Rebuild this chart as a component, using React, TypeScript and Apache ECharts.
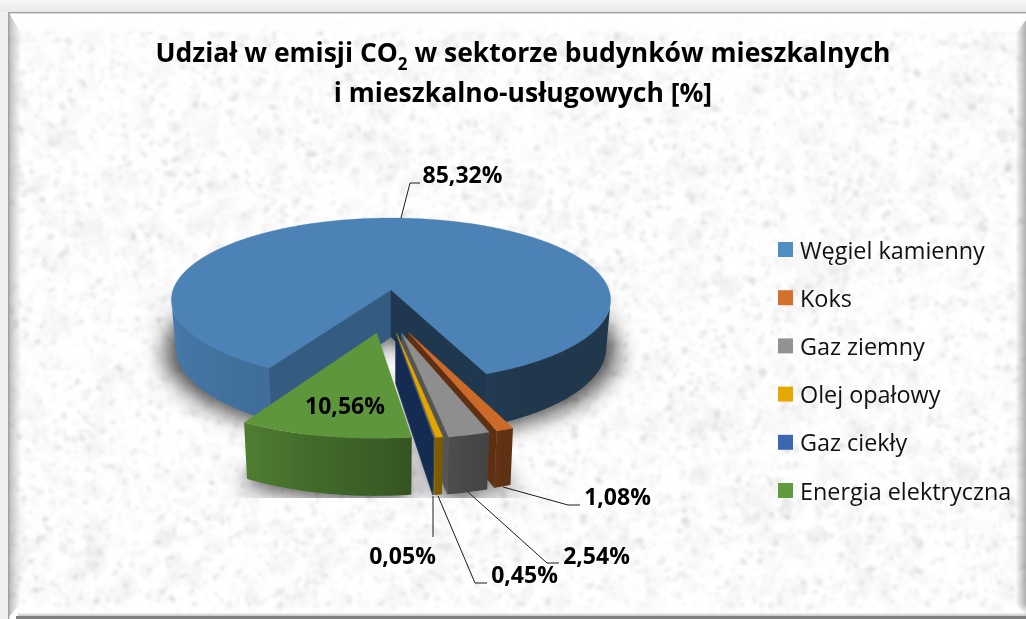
import React, { useEffect, useRef, useState } from "react";
import * as echarts from "echarts";

const categories = ["Węgiel kamienny", "Koks", "Gaz ziemny", "Olej opałowy", "Gaz ciekły", "Energia elektryczna"];
const shares = [85.32, 1.08, 2.54, 0.45, 0.05, 10.56];
const titleLines = ["Udział w emisji CO", "2", " w sektorze budynków mieszkalnych", "i mieszkalno-usługowych [%]"];

const topColors = ["#4c82b6", "#cc6a2a", "#8e8e8e", "#e3a600", "#3a62ac", "#5e963c"];
const legendColors = ["#4f8dc3", "#d4702c", "#929292", "#e5a900", "#3d66b1", "#609b40"];
const cutColors = ["#345b80", "#5e3011", "#555555", "#8f6a00", "#152c52", "#3f6a29"];
const endCutColors = ["#1f374f", "#5e3011", "#555555", "#8f6a00", "#152c52", "#3f6a29"];
const explodeX = [0, 0.0746, 0.046, 0.0245, 0.02, -0.0616];
const explodeY = [0, 0.492, 0.503, 0.503, 0.503, 0.5];
// leader lines and label anchors, one per slice
const leaders: number[][][] = [
  [[401, 218], [410, 183], [420, 183]],
  [[503, 487], [568, 505], [580, 505]],
  [[468, 492], [547, 563], [559, 563]],
  [[438, 496], [475, 583], [487, 583]],
  [[433, 496], [433, 537]],
  [],
];
const labelX = [462.5, 617.5, 596.5, 524.5, 402.5, 345];
const labelY = [174, 496, 555, 574, 555, 405];

const START = 210;
const B = 0.122, A = 80.8, R = 218, CX = 391, CY = 290, H = 47;
const CAM_Y = 1 / B;
const rad = (d: number) => (d * Math.PI) / 180;

function proj(X: number, Y: number, bottom = false) {
  const k = 1 / (1 - B * Y);
  let x = CX + R * X * k;
  let y = CY + A * Y * k;
  if (bottom) {
    y += H * k;
    x = CX + (x - CX) * 0.98;
  }
  return [x, y];
}
function rim(i: number, phi: number, bottom = false) {
  return proj(explodeX[i] + Math.sin(rad(phi)), explodeY[i] - Math.cos(rad(phi)), bottom);
}
function sliceRange(i: number) {
  const total = shares.reduce((a, b) => a + b, 0);
  let before = 0;
  for (let k = 0; k < i; k++) before += shares[k];
  return [START + (before / total) * 360, START + ((before + shares[i]) / total) * 360];
}
function angles(a: number, b: number) {
  const out: number[] = [];
  for (let p = a; p < b; p += 0.5) out.push(p);
  out.push(b);
  return out;
}
const wallShade = [[0, 0.42], [150, 0.42], [165, 0.5], [180, 0.62], [195, 0.72], [210, 0.84], [240, 0.9], [270, 0.97], [360, 0.97]];
function shadeAt(phi: number) {
  const p = ((phi % 360) + 360) % 360;
  for (let k = 1; k < wallShade.length; k++) {
    if (p <= wallShade[k][0]) {
      const t = (p - wallShade[k - 1][0]) / (wallShade[k][0] - wallShade[k - 1][0]);
      return wallShade[k - 1][1] + t * (wallShade[k][1] - wallShade[k - 1][1]);
    }
  }
  return 0.97;
}
function dark(hex: string, f: number) {
  const n = parseInt(hex.slice(1), 16);
  const c = [(n >> 16) & 255, (n >> 8) & 255, n & 255].map((v) => Math.round(v * f));
  return `rgb(${c[0]},${c[1]},${c[2]})`;
}
function faces(i: number) {
  const [a, b] = sliceRange(i);
  const ax = explodeX[i], ay = explodeY[i];
  const kids: any[] = [];
  const cut = (phi: number, sign: number, color: string) => {
    const nx = Math.sin(rad(phi + sign * 90)), ny = -Math.cos(rad(phi + sign * 90));
    if (-ax * nx + (CAM_Y - ay) * ny <= 0) return;
    kids.push({
      type: "polygon", silent: true,
      shape: { points: [proj(ax, ay), rim(i, phi), rim(i, phi, true), proj(ax, ay, true)] },
      style: { fill: color, stroke: color, lineWidth: 0.5 },
    });
  };
  cut(a, -1, cutColors[i]);
  cut(b, 1, endCutColors[i]);
  // outer wall: only the visible runs
  let run: number[] = [];
  const flush = () => {
    if (run.length > 1) {
      const top = run.map((p) => rim(i, p));
      const bot = run.map((p) => rim(i, p, true)).reverse();
      const pts = top.concat(bot);
      const xs = pts.map((q) => q[0]);
      const x0 = Math.min(...xs), x1 = Math.max(...xs);
      const stops = run
        .filter((_, n) => n % 6 === 0 || n === run.length - 1)
        .map((p) => ({ offset: Math.min(1, Math.max(0, (rim(i, p)[0] - x0) / (x1 - x0))), color: dark(topColors[i], shadeAt(p)) }))
        .sort((s, t) => s.offset - t.offset);
      kids.push({
        type: "polygon", silent: true, shape: { points: pts },
        style: { fill: new echarts.graphic.LinearGradient(0, 0, 1, 0, stops) },
      });
    }
    run = [];
  };
  for (const p of angles(a, b)) {
    const sx = Math.sin(rad(p)), sy = -Math.cos(rad(p));
    const vis = -(ax + sx) * sx + (CAM_Y - ay - sy) * sy > 0;
    if (vis) run.push(p);
    else flush();
  }
  flush();
  const topPts = [proj(ax, ay)].concat(angles(a, b).map((p) => rim(i, p)));
  kids.push({
    type: "polygon", silent: true, shape: { points: topPts },
    style: { fill: topColors[i], stroke: topColors[i], lineWidth: 0.3 },
  });
  return kids;
}
function annotation(i: number) {
  const kids: any[] = [];
  if (leaders[i].length)
    kids.push({ type: "polyline", silent: true, shape: { points: leaders[i] }, style: { stroke: "#1c1c1c", lineWidth: 1, fill: "none" } });
  kids.push({
    type: "text", silent: true,
    style: {
      text: shares[i].toFixed(2).replace(".", ",") + "%",
      x: labelX[i], y: labelY[i], align: "center", verticalAlign: "middle",
      fill: "#000", font: 'bold 23px "Open Sans"',
    },
  });
  return kids;
}

function layer(W: number, Hh: number) {
  const c = document.createElement("canvas");
  c.width = W; c.height = Hh;
  return c;
}
function makeBackground() {
  const W = 1026, Hh = 619;
  const c = layer(W, Hh);
  const g = c.getContext("2d")!;
  const pg = g.createLinearGradient(0, 0, 0, 12);
  pg.addColorStop(0, "#f6f6f6"); pg.addColorStop(1, "#e9e9e9");
  g.fillStyle = pg; g.fillRect(0, 0, W, Hh);
  g.fillStyle = "#ffffff"; g.fillRect(9, 13, W - 9, Hh - 13);
  // paper grain: draw on its own layer, blur once
  let seed = 20240611;
  const rnd = () => ((seed = (seed * 1664525 + 1013904223) >>> 0) / 4294967296);
  const grain = layer(W, Hh);
  const gg = grain.getContext("2d")!;
  for (let n = 0; n < 1500; n++) {
    const x = rnd() * W, y = rnd() * Hh, r = 5 + rnd() * 8;
    gg.fillStyle = `rgba(190,190,190,${0.03 + rnd() * 0.06})`;
    gg.beginPath(); gg.ellipse(x, y, r, r * (0.5 + rnd() * 0.5), rnd() * 3.14, 0, 6.3); gg.fill();
  }
  for (let n = 0; n < 16000; n++) {
    const x = rnd() * W, y = rnd() * Hh, r = 0.8 + rnd() * 2.2, a = 0.03 + rnd() * rnd() * 0.26;
    gg.fillStyle = `rgba(165,165,165,${a})`;
    gg.beginPath(); gg.ellipse(x, y, r * (0.8 + rnd()), r * (0.6 + rnd() * 0.6), rnd() * 3.14, 0, 6.3); gg.fill();
  }
  g.save();
  g.beginPath(); g.rect(9, 13, W - 9, Hh - 16); g.clip();
  g.filter = "blur(1.8px)";
  g.drawImage(grain, 0, 0);
  g.filter = "none";
  g.restore();
  // bevel
  const t = g.createLinearGradient(0, 13, 0, 33);
  t.addColorStop(0, "rgba(255,255,255,.95)"); t.addColorStop(0.85, "rgba(255,255,255,.8)"); t.addColorStop(1, "rgba(255,255,255,.0)");
  g.fillStyle = t; g.fillRect(9, 13, W - 9, 20);
  const l = g.createLinearGradient(8, 0, 21, 0);
  l.addColorStop(0, "rgba(120,120,120,.55)"); l.addColorStop(1, "rgba(150,150,150,.02)");
  g.fillStyle = l; g.beginPath(); g.moveTo(9, 13); g.lineTo(21, 33); g.lineTo(21, 604); g.lineTo(9, 616); g.fill();
  const rr = g.createLinearGradient(1016, 0, 1026, 0);
  rr.addColorStop(0, "rgba(120,120,120,.02)"); rr.addColorStop(1, "rgba(110,110,110,.55)");
  g.fillStyle = rr; g.beginPath(); g.moveTo(1026, 20); g.lineTo(1016, 33); g.lineTo(1016, 604); g.lineTo(1026, 616); g.fill();
  const bt = g.createLinearGradient(0, 604, 0, 616);
  bt.addColorStop(0, "rgba(255,255,255,0)"); bt.addColorStop(0.7, "rgba(255,255,255,.85)"); bt.addColorStop(1, "rgba(190,190,190,.9)");
  g.fillStyle = bt; g.fillRect(18, 604, W - 18, 12);
  g.fillStyle = "#808080"; g.fillRect(16, 616, W - 16, 3);
  g.fillStyle = "#a0a0a0"; g.fillRect(8, 12, W - 8, 1.4); g.fillRect(8, 12, 1.4, 607);
  g.fillStyle = "#f0f0f0"; g.fillRect(0, 12, 8, 607);
  // cast shadow of the pie, cut off at the floor edge
  const sh = layer(W, Hh);
  const sg = sh.getContext("2d")!;
  sg.fillStyle = "#000";
  shares.forEach((_, i) => {
    const [a, b] = sliceRange(i);
    const arc = angles(a, b).map((p) => {
      const q = rim(i, p, true);
      return [CX + (q[0] - CX) * 1.05, q[1] + 4];
    });
    const pts = [proj(explodeX[i], explodeY[i], true)].concat(arc);
    sg.beginPath();
    pts.forEach((p, n) => (n ? sg.lineTo(p[0], p[1]) : sg.moveTo(p[0], p[1])));
    sg.closePath(); sg.fill();
  });
  g.save();
  g.beginPath(); g.rect(0, 0, W, 498); g.clip();
  g.globalAlpha = 0.7;
  g.filter = "blur(11px)";
  g.drawImage(sh, 0, 0);
  g.filter = "none";
  g.restore();
  return c.toDataURL("image/png");
}

export default function App() {
  const ref = useRef<HTMLDivElement>(null);
  const [bg] = useState(makeBackground);
  useEffect(() => {
    document.body.style.margin = "0";
    const chart = echarts.init(ref.current!, undefined, { renderer: "svg" });
    chart.setOption({
      animation: false,
      backgroundColor: "transparent",
      title: {
        left: 518,
        top: 27,
        textAlign: "center",
        text: `{a|${titleLines[0]}}{s|${titleLines[1]}}{a|${titleLines[2]}}\n{a|${titleLines[3]}}`,
        textStyle: {
          rich: {
            a: { fontFamily: "Open Sans", fontWeight: "bold", fontSize: 26.5, color: "#000", lineHeight: 40 },
            s: { fontFamily: "Open Sans", fontWeight: "bold", fontSize: 17, color: "#000", lineHeight: 40, verticalAlign: "bottom", padding: [8, 0, 0, 0] },
          },
        },
      },
      legend: {
        orient: "vertical",
        left: 773,
        top: 231,
        itemWidth: 15,
        itemHeight: 15,
        itemGap: 21.2,
        icon: "rect",
        selectedMode: false,
        textStyle: { fontFamily: "Open Sans", fontSize: 23.4, color: "#111", padding: [0, 0, 0, 2], lineHeight: 27 },
        data: categories,
      },
      series: categories.map((name, i) => ({
        type: "custom",
        name,
        coordinateSystem: "none",
        silent: true,
        itemStyle: { color: legendColors[i] },
        data: [[shares[i]]],
        renderItem: () => ({ type: "group", children: faces(i).concat(annotation(i)) }),
      })),
    });
    return () => chart.dispose();
  }, []);
  return (
    <div
      style={{
        position: "fixed", left: 0, top: 0, width: 1026, height: 619,
        backgroundImage: `url(${bg})`,
      }}
    >
      <div ref={ref} style={{ width: 1026, height: 619 }} />
    </div>
  );
}
